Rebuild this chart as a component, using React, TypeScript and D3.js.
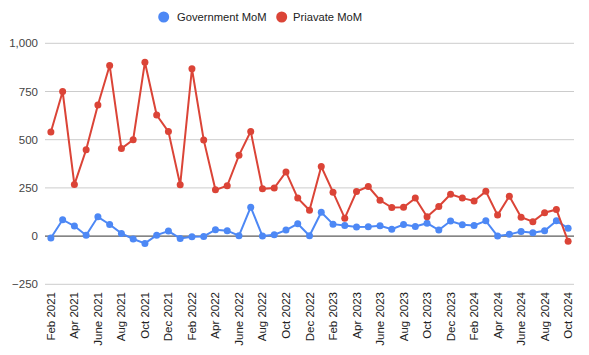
import React from "react";
import * as d3 from "d3";

const months = [
  "Feb 2021","Mar 2021","Apr 2021","May 2021","June 2021","July 2021","Aug 2021","Sep 2021","Oct 2021","Nov 2021","Dec 2021","Jan 2022",
  "Feb 2022","Mar 2022","Apr 2022","May 2022","June 2022","July 2022","Aug 2022","Sep 2022","Oct 2022","Nov 2022","Dec 2022","Jan 2023",
  "Feb 2023","Mar 2023","Apr 2023","May 2023","June 2023","July 2023","Aug 2023","Sep 2023","Oct 2023","Nov 2023","Dec 2023","Jan 2024",
  "Feb 2024","Mar 2024","Apr 2024","May 2024","June 2024","July 2024","Aug 2024","Sep 2024","Oct 2024",
];

const government = [-10, 85, 52, 4, 100, 60, 14, -15, -38, 5, 26, -12, -3, -2, 33, 28, 2, 150, 0, 7, 31, 64, 2, 124, 62, 55, 47, 49, 54, 36, 60, 50, 67, 31, 78, 59, 55, 79, 0, 9, 24, 17, 28, 79, 41];
const privateSeries = [540, 750, 267, 448, 680, 885, 454, 500, 902, 628, 542, 266, 868, 499, 240, 261, 419, 543, 245, 249, 333, 197, 134, 361, 228, 93, 231, 257, 186, 148, 150, 197, 100, 154, 217, 197, 182, 232, 109, 207, 98, 75, 121, 138, -27];

const yTicks = [-250, 0, 250, 500, 750, 1000];

const seriesList = [
  { name: "Government MoM", values: government, color: "#4D88F5" },
  { name: "Priavate MoM", values: privateSeries, color: "#DB4437" },
];

const W = 589;
const H = 355;
const left = 45;
const right = 574;
const top = 43.3;
const bottom = 284.3;
const font = "Arial, 'Liberation Sans', sans-serif";

export default function App() {
  const x = d3.scalePoint<string>().domain(months).range([left, right]).padding(0.5);
  const y = d3.scaleLinear().domain([-250, 1000]).range([bottom, top]);
  const line = d3
    .line<number>()
    .x((_, i) => x(months[i]) as number)
    .y((d) => y(d));
  const fmt = d3.format(",");

  return (
    <svg width={W} height={H} style={{ position: "absolute", left: 0, top: 0, fontFamily: font }}>
      <rect width={W} height={H} fill="#fff" />
      {yTicks.map((t) => (
        <g key={t}>
          <line x1={left} x2={right} y1={y(t)} y2={y(t)} stroke={t === 0 ? "#333" : "#ccc"} strokeWidth={1} />
          <text x={38} y={y(t)} dy="0.35em" textAnchor="end" fontSize={11.5} fill="#444">
            {fmt(t)}
          </text>
        </g>
      ))}
      {months.map((m, i) =>
        i % 2 === 0 ? (
          <text
            key={m}
            transform={`translate(${(x(m) as number) + 4},292) rotate(-90)`}
            textAnchor="end"
            fontSize={11.5}
            fill="#222"
          >
            {m}
          </text>
        ) : null
      )}
      {seriesList.map((s) => (
        <g key={s.name}>
          <path d={line(s.values) || ""} fill="none" stroke={s.color} strokeWidth={2} />
          {s.values.map((v, i) => (
            <circle key={i} cx={x(months[i]) as number} cy={y(v)} r={3.5} fill={s.color} />
          ))}
        </g>
      ))}
      <g>
        <circle cx={163.7} cy={17} r={5.5} fill={seriesList[0].color} />
        <text x={177} y={17} dy="0.35em" fontSize={11.2} fill="#222">{seriesList[0].name}</text>
        <circle cx={281.7} cy={17} r={5.5} fill={seriesList[1].color} />
        <text x={293} y={17} dy="0.35em" fontSize={11.2} fill="#222">{seriesList[1].name}</text>
      </g>
    </svg>
  );
}
